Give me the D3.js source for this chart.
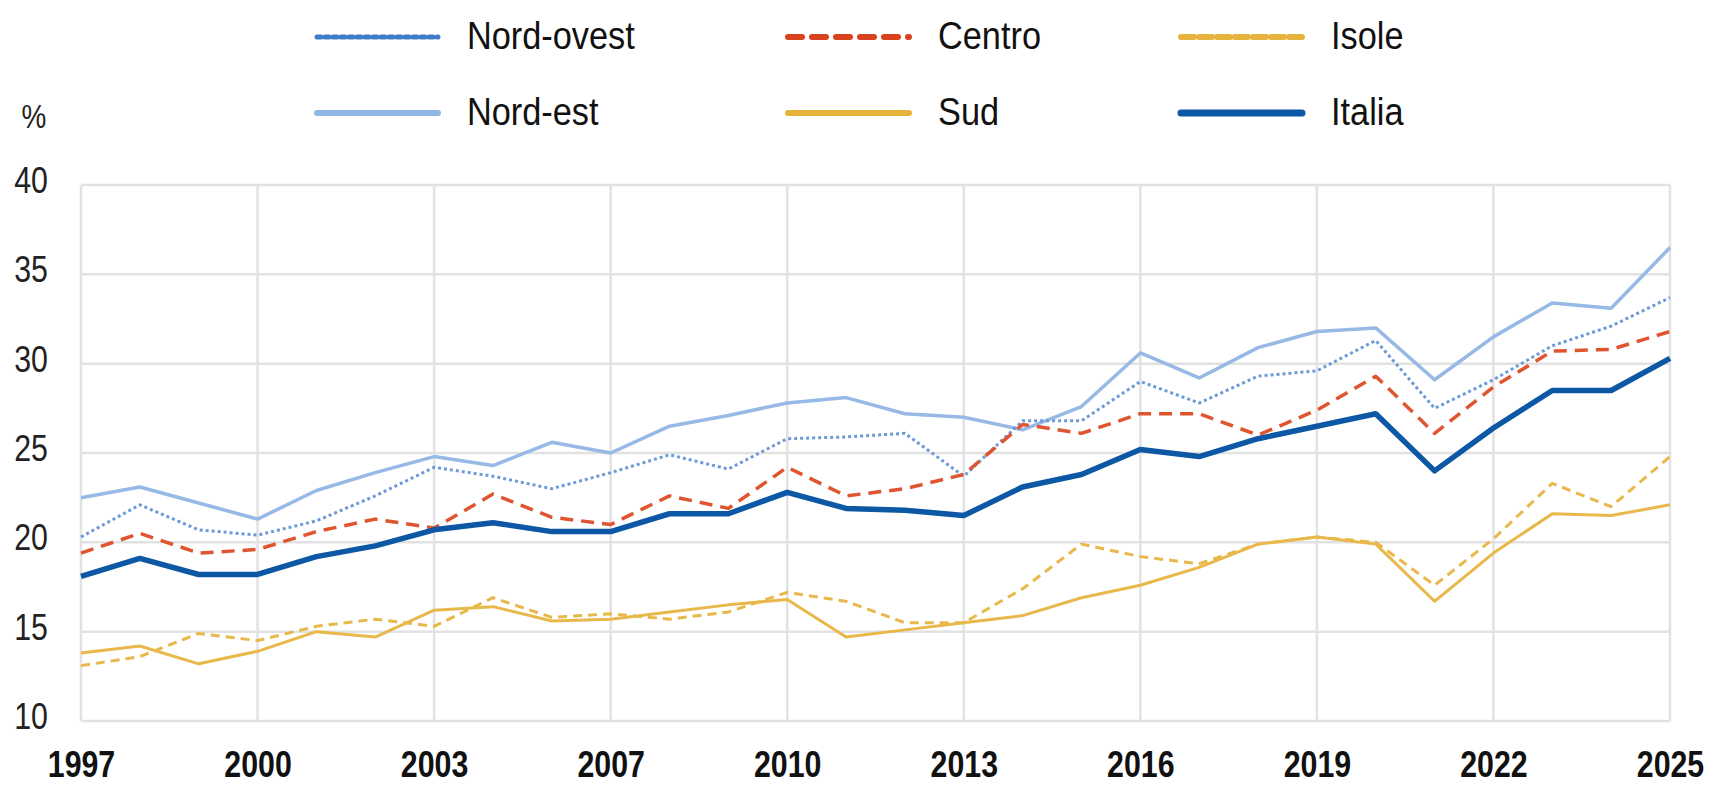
<!DOCTYPE html>
<html>
<head>
<meta charset="utf-8">
<script src="https://cdn.jsdelivr.net/npm/d3@7"></script>
<style>
  body { margin: 0; background: #fff; }
  #chart { width: 1722px; height: 787px; }
  text { font-family: "Liberation Sans", Arial, sans-serif; }
</style>
</head>
<body>
<div id="chart"></div>
<script>
// years in the survey (no 2004 edition)
const years = ["1997","1998","1999","2000","2001","2002","2003","2005","2006","2007",
    "2008","2009","2010","2011","2012","2013","2014","2015","2016","2017",
    "2018","2019","2020","2021","2022","2023","2024","2025"];
const tickYears = ["1997","2000","2003","2007","2010","2013","2016","2019","2022","2025"];
const yTicks = [10, 15, 20, 25, 30, 35, 40];

const nordOvest = [20.3, 22.1, 20.7, 20.4, 21.2, 22.6, 24.2, 23.7, 23.0, 23.9, 24.9, 24.1, 25.8, 25.9,
    26.1, 23.7, 26.8, 26.8, 29.0, 27.8, 29.3, 29.6, 31.3, 27.5, 29.1, 31.0, 32.1, 33.7];
const nordEst = [22.5, 23.1, 22.2, 21.3, 22.9, 23.9, 24.8, 24.3, 25.6, 25.0, 26.5, 27.1, 27.8, 28.1,
    27.2, 27.0, 26.3, 27.6, 30.6, 29.2, 30.9, 31.8, 32.0, 29.1, 31.5, 33.4, 33.1, 36.5];
const centro = [19.4, 20.5, 19.4, 19.6, 20.6, 21.3, 20.8, 22.7, 21.4, 21.0, 22.6, 21.9, 24.2, 22.6,
    23.0, 23.8, 26.6, 26.1, 27.2, 27.2, 26.0, 27.4, 29.3, 26.1, 28.7, 30.7, 30.8, 31.8];
const sud = [13.8, 14.2, 13.2, 13.9, 15.0, 14.7, 16.2, 16.4, 15.6, 15.7, 16.1, 16.5, 16.8, 14.7,
    15.1, 15.5, 15.9, 16.9, 17.6, 18.6, 19.9, 20.3, 19.9, 16.7, 19.4, 21.6, 21.5, 22.1];
const isole = [13.1, 13.6, 14.9, 14.5, 15.3, 15.7, 15.3, 16.9, 15.8, 16.0, 15.7, 16.1, 17.2, 16.7,
    15.5, 15.5, 17.4, 19.9, 19.2, 18.8, 19.9, 20.3, 20.0, 17.6, 20.2, 23.3, 22.0, 24.8];
const italia = [18.1, 19.1, 18.2, 18.2, 19.2, 19.8, 20.7, 21.1, 20.6, 20.6, 21.6, 21.6, 22.8, 21.9,
    21.8, 21.5, 23.1, 23.8, 25.2, 24.8, 25.8, 26.5, 27.2, 24.0, 26.4, 28.5, 28.5, 30.3];

// series styles (drawing order: lower layers first)
const series = [
    { label: "Isole", values: isole, color: "#e8b84a", width: 3, dash: "9,6" },
    { label: "Sud", values: sud, color: "#e8b84a", width: 3, dash: null },
    { label: "Nord-est", values: nordEst, color: "#96b9e6", width: 3.5, dash: null },
    { label: "Nord-ovest", values: nordOvest, color: "#6c9ad8", width: 3, dash: "3,3" },
    { label: "Centro", values: centro, color: "#de5530", width: 3.5, dash: "13,8" },
    { label: "Italia", values: italia, color: "#0d58a5", width: 5.5, dash: null }
];

// the original uses a narrow face; squeeze the glyphs horizontally
const squeeze = 0.82;

const svg = d3.select("#chart").append("svg")
    .attr("width", 1722)
    .attr("height", 787);

const plotLeft = 81, plotRight = 1670, plotTop = 185, plotBottom = 721;

const x = d3.scalePoint().domain(years).range([plotLeft, plotRight]);
const y = d3.scaleLinear().domain([10, 40]).range([plotBottom, plotTop]);

// grid
const grid = svg.append("g");
grid.selectAll(".hg")
    .data(yTicks)
    .enter().append("line")
    .attr("x1", plotLeft).attr("x2", plotRight)
    .attr("y1", d => y(d)).attr("y2", d => y(d))
    .attr("stroke", "#e2e2e2")
    .attr("stroke-width", 2.5);
grid.selectAll(".vg")
    .data(tickYears)
    .enter().append("line")
    .attr("x1", d => x(d)).attr("x2", d => x(d))
    .attr("y1", plotTop).attr("y2", plotBottom)
    .attr("stroke", "#e2e2e2")
    .attr("stroke-width", 2.5);

// axes
const xAxis = svg.append("g")
    .attr("transform", `translate(0,${plotBottom})`)
    .call(d3.axisBottom(x).tickValues(tickYears).tickSize(0).tickPadding(30));
xAxis.select(".domain").remove();
xAxis.selectAll("text")
    .attr("fill", "#111")
    .attr("transform", `scale(${squeeze},1)`)
    .style("font-size", "37px")
    .style("font-weight", "bold");

const yAxis = svg.append("g")
    .attr("transform", `translate(${plotLeft},0)`)
    .call(d3.axisLeft(y).tickValues(yTicks).tickSize(0));
yAxis.select(".domain").remove();
yAxis.selectAll("text")
    .attr("fill", "#222")
    .attr("x", -33 / squeeze)
    .attr("dy", "0.2em")
    .attr("transform", `scale(${squeeze},1)`)
    .style("font-size", "37px");

svg.append("g")
    .attr("transform", "translate(34,128)")
    .append("text")
    .attr("text-anchor", "middle")
    .attr("transform", `scale(${squeeze},1)`)
    .attr("fill", "#222")
    .style("font-size", "34px")
    .text("%");

// lines
const line = d3.line()
    .x((d, i) => x(years[i]))
    .y(d => y(d));

series.forEach(s => {
    svg.append("path")
        .datum(s.values)
        .attr("d", line)
        .attr("fill", "none")
        .attr("stroke", s.color)
        .attr("stroke-width", s.width)
        .attr("stroke-linejoin", "round")
        .attr("stroke-dasharray", s.dash);
});

// legend
const legendItems = [
    { label: "Nord-ovest", color: "#3f7cc8", width: 5, dash: "4,4", col: 0, row: 0 },
    { label: "Centro", color: "#d9421f", width: 6, dash: "14,10", col: 1, row: 0 },
    { label: "Isole", color: "#e6b43c", width: 6, dash: "13,5", col: 2, row: 0 },
    { label: "Nord-est", color: "#8fb5e5", width: 6, dash: null, col: 0, row: 1 },
    { label: "Sud", color: "#e6b43c", width: 6, dash: null, col: 1, row: 1 },
    { label: "Italia", color: "#0d58a5", width: 7, dash: null, col: 2, row: 1 }
];
const colX = [317, 788, 1181];
const rowY = [37, 113];

legendItems.forEach(it => {
    const lx = colX[it.col], ly = rowY[it.row];
    svg.append("line")
        .attr("x1", lx).attr("x2", lx + 121)
        .attr("y1", ly).attr("y2", ly)
        .attr("stroke", it.color)
        .attr("stroke-width", it.width)
        .attr("stroke-linecap", "round")
        .attr("stroke-dasharray", it.dash);
    svg.append("g")
        .attr("transform", `translate(${lx + 150},${ly + 12})`)
        .append("text")
        .attr("transform", "scale(0.88,1)")
        .attr("fill", "#111")
        .style("font-size", "39px")
        .text(it.label);
});
</script>
</body>
</html>
